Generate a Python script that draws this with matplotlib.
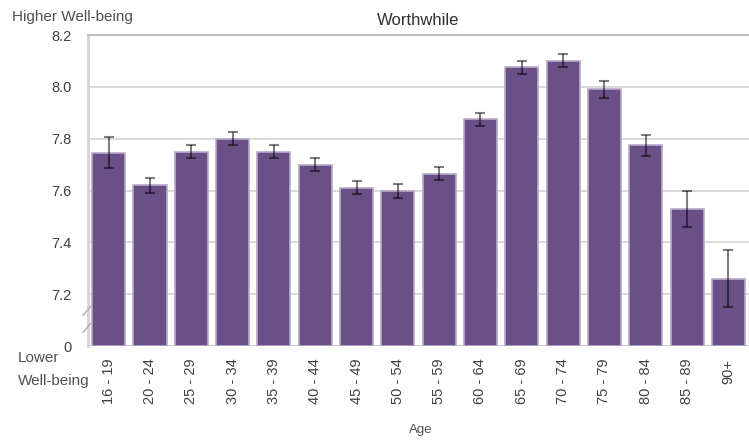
import matplotlib.pyplot as plt
import numpy as np

# Age groups and mean "worthwhile" ratings with error bars
ages = ["16 - 19", "20 - 24", "25 - 29", "30 - 34", "35 - 39", "40 - 44", "45 - 49", "50 - 54",
        "55 - 59", "60 - 64", "65 - 69", "70 - 74", "75 - 79", "80 - 84", "85 - 89", "90+"]
worthwhile = [7.745, 7.62, 7.75, 7.80, 7.75, 7.70, 7.61, 7.60,
              7.665, 7.875, 8.075, 8.10, 7.99, 7.775, 7.53, 7.26]
err = [0.06, 0.03, 0.025, 0.025, 0.026, 0.026, 0.025, 0.027,
       0.025, 0.025, 0.025, 0.025, 0.032, 0.04, 0.07, 0.11]

ytick_vals = [7.0, 7.2, 7.4, 7.6, 7.8, 8.0, 8.2]
ytick_labels = ["0", "7.2", "7.4", "7.6", "7.8", "8.0", "8.2"]

plt.rcParams["font.family"] = ["Liberation Sans", "DejaVu Sans"]

fig = plt.figure(figsize=(7.49, 4.41), dpi=100)
ax = fig.add_axes([0.1175, 0.2154, 0.8825, 0.7052])

x = np.arange(len(ages))
base = 7.0
ax.bar(x, np.array(worthwhile) - base, bottom=base, width=0.8,
       color="#6a5087", edgecolor="#b7a9c8", linewidth=1.2, zorder=2)
# translucent error bars: grey over white, dark over the purple bars
ax.errorbar(x, worthwhile, yerr=err, fmt="none", ecolor=(0, 0, 0, 0.5),
            elinewidth=1.5, capsize=3.5, capthick=1.5, zorder=3)

ax.set_xlim(-0.5, len(ages) - 0.5)
ax.set_ylim(7.0, 8.2)
ax.set_yticks(ytick_vals)
ax.set_yticklabels(ytick_labels)
ax.set_xticks(x)
ax.set_xticklabels(ages, rotation=90)
ax.tick_params(axis="both", labelsize=10.5, colors="#404040", length=0)
ax.tick_params(axis="x", pad=9)
ax.tick_params(axis="y", pad=12)

ax.grid(axis="y", color="#d4d4d4", linewidth=1.2, zorder=0)
ax.set_axisbelow(True)
for s in ["right", "bottom"]:
    ax.spines[s].set_visible(False)
ax.spines["top"].set_color("#c0c0c0")
ax.spines["top"].set_linewidth(1.5)
ax.spines["left"].set_color("#d4d4d4")
ax.spines["left"].set_linewidth(2)
ax.axhline(7.0, color="#c8c8c8", linewidth=1.2, zorder=1)

# axis break marks
for yb in [7.07, 7.135]:
    ax.plot([-0.62, -0.44], [yb - 0.017, yb + 0.017], color="#b0b0b0",
            linewidth=1, clip_on=False, zorder=4)

ax.set_title("Worthwhile", fontsize=12, color="#303030", pad=7)
fig.text(0.016, 0.962, "Higher Well-being", fontsize=11, color="#505050",
         va="center", ha="left")
fig.text(0.024, 0.188, "Lower", fontsize=11, color="#505050", va="center")
fig.text(0.024, 0.136, "Well-being", fontsize=11, color="#505050", va="center")
fig.text(0.562, 0.018, "Age", fontsize=9.5, color="#505050", ha="center")

fig.savefig("out.png", dpi=100)
